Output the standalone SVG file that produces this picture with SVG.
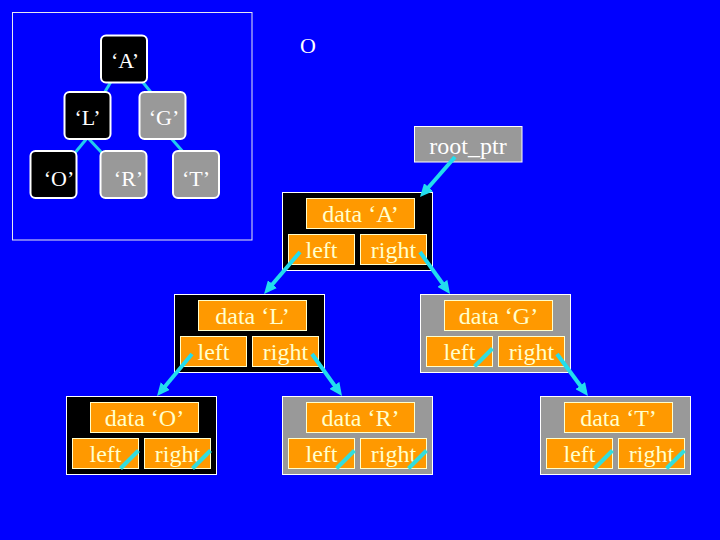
<svg xmlns="http://www.w3.org/2000/svg" width="720" height="540" viewBox="0 0 720 540">
  <style>
    text { font-family: "Liberation Serif", "Times New Roman", serif; text-anchor: middle; }
    .lbl { font-size: 22px; fill: #FFFFFF; }
    .ft { font-size: 24px; fill: #FFFFCC; }
    .rp { font-size: 24px; fill: #FFFFFF; }
    .ibox { stroke: #FFFFFF; stroke-width: 2; }
    .box { stroke: #FFFFFF; stroke-width: 1; }
    .blk { fill: #000000; }
    .gry { fill: #999999; }
    .fld { fill: #FF9900; stroke: #FFFFCC; stroke-width: 1; }
    .edge { stroke: #22DDEE; stroke-width: 4; fill: none; }
    .iedge { stroke: #22CCEE; stroke-width: 3; fill: none; }
    .null { stroke: #33DDDD; stroke-width: 4; }
  </style>
  <defs>
    <marker id="ah" markerUnits="userSpaceOnUse" markerWidth="14" markerHeight="12" refX="8" refY="6" orient="auto">
      <path d="M0,0 L13,6 L0,12 z" fill="#22DDEE"/>
    </marker>
  </defs>

  <rect x="0" y="0" width="720" height="540" fill="#0000FF"/>

  <!-- inset tree -->
  <rect x="12.5" y="12.5" width="239.5" height="227.5" fill="none" stroke="#E8E8F0" stroke-width="1"/>
  <g id="inset-edges">
    <line class="iedge" x1="112" y1="80" x2="103" y2="95"/>
    <line class="iedge" x1="141" y1="80" x2="151.5" y2="93"/>
    <line class="iedge" x1="88" y1="137" x2="74" y2="154"/>
    <line class="iedge" x1="87" y1="137" x2="103" y2="154"/>
    <line class="iedge" x1="170" y1="137" x2="184" y2="153"/>
  </g>
  <g id="inset-A"><rect class="ibox blk" x="101" y="35.5" width="46" height="47" rx="5"/><text class="lbl" x="125" y="68">‘A’</text></g>
  <g id="inset-L"><rect class="ibox blk" x="64.5" y="92" width="46" height="47" rx="5"/><text class="lbl" x="87.5" y="125">‘L’</text></g>
  <g id="inset-G"><rect class="ibox gry" x="139.5" y="92" width="46" height="47" rx="5"/><text class="lbl" x="164" y="125">‘G’</text></g>
  <g id="inset-O"><rect class="ibox blk" x="30.5" y="151" width="46" height="47" rx="5"/><text class="lbl" x="59" y="186">‘O’</text></g>
  <g id="inset-R"><rect class="ibox gry" x="100.5" y="151" width="46" height="47" rx="5"/><text class="lbl" x="128.5" y="186">‘R’</text></g>
  <g id="inset-T"><rect class="ibox gry" x="173" y="151" width="46" height="47" rx="5"/><text class="lbl" x="196" y="186">‘T’</text></g>

  <text class="lbl" x="308" y="53">O</text>

  <!-- root pointer -->
  <g id="root_ptr">
    <rect class="box gry" x="414.5" y="126.5" width="107.5" height="35.5"/>
    <text class="rp" x="468" y="154">root_ptr</text>
  </g>

  <!-- main nodes -->
  <g id="node-A" transform="translate(282.5,192.5)">
    <rect class="box blk" x="0" y="0" width="150" height="78"/>
    <rect class="fld" x="24" y="6" width="108" height="30"/>
    <rect class="fld" x="6" y="42" width="66" height="30"/>
    <rect class="fld" x="78" y="42" width="66" height="30"/>
    <text class="ft" x="78" y="29.5">data ‘A’</text>
    <text class="ft" x="39" y="65">left</text>
    <text class="ft" x="111" y="65">right</text>
  </g>
  <g id="node-L" transform="translate(174.5,294.5)">
    <rect class="box blk" x="0" y="0" width="150" height="78"/>
    <rect class="fld" x="24" y="6" width="108" height="30"/>
    <rect class="fld" x="6" y="42" width="66" height="30"/>
    <rect class="fld" x="78" y="42" width="66" height="30"/>
    <text class="ft" x="78" y="29.5">data ‘L’</text>
    <text class="ft" x="39" y="65">left</text>
    <text class="ft" x="111" y="65">right</text>
  </g>
  <g id="node-G" transform="translate(420.5,294.5)">
    <rect class="box gry" x="0" y="0" width="150" height="78"/>
    <rect class="fld" x="24" y="6" width="108" height="30"/>
    <rect class="fld" x="6" y="42" width="66" height="30"/>
    <rect class="fld" x="78" y="42" width="66" height="30"/>
    <text class="ft" x="78" y="29.5">data ‘G’</text>
    <text class="ft" x="39" y="65">left</text>
    <text class="ft" x="111" y="65">right</text>
    <line class="null" x1="72" y1="54" x2="54" y2="72"/>
  </g>
  <g id="node-O" transform="translate(66.5,396.5)">
    <rect class="box blk" x="0" y="0" width="150" height="78"/>
    <rect class="fld" x="24" y="6" width="108" height="30"/>
    <rect class="fld" x="6" y="42" width="66" height="30"/>
    <rect class="fld" x="78" y="42" width="66" height="30"/>
    <text class="ft" x="78" y="29.5">data ‘O’</text>
    <text class="ft" x="39" y="65">left</text>
    <text class="ft" x="111" y="65">right</text>
    <line class="null" x1="72" y1="54" x2="54" y2="72"/>
    <line class="null" x1="144" y1="54" x2="126" y2="72"/>
  </g>
  <g id="node-R" transform="translate(282.5,396.5)">
    <rect class="box gry" x="0" y="0" width="150" height="78"/>
    <rect class="fld" x="24" y="6" width="108" height="30"/>
    <rect class="fld" x="6" y="42" width="66" height="30"/>
    <rect class="fld" x="78" y="42" width="66" height="30"/>
    <text class="ft" x="78" y="29.5">data ‘R’</text>
    <text class="ft" x="39" y="65">left</text>
    <text class="ft" x="111" y="65">right</text>
    <line class="null" x1="72" y1="54" x2="54" y2="72"/>
    <line class="null" x1="144" y1="54" x2="126" y2="72"/>
  </g>
  <g id="node-T" transform="translate(540.5,396.5)">
    <rect class="box gry" x="0" y="0" width="150" height="78"/>
    <rect class="fld" x="24" y="6" width="108" height="30"/>
    <rect class="fld" x="6" y="42" width="66" height="30"/>
    <rect class="fld" x="78" y="42" width="66" height="30"/>
    <text class="ft" x="78" y="29.5">data ‘T’</text>
    <text class="ft" x="39" y="65">left</text>
    <text class="ft" x="111" y="65">right</text>
    <line class="null" x1="72" y1="54" x2="54" y2="72"/>
    <line class="null" x1="144" y1="54" x2="126" y2="72"/>
  </g>

  <!-- connectors -->
  <g id="connectors">
    <line class="edge" x1="455" y1="157" x2="423.3" y2="193.2" marker-end="url(#ah)"/>
    <line class="edge" x1="300" y1="252" x2="267.3" y2="290.2" marker-end="url(#ah)"/>
    <line class="edge" x1="420" y1="252" x2="447.1" y2="289.9" marker-end="url(#ah)"/>
    <line class="edge" x1="192" y1="354" x2="160.2" y2="392.2" marker-end="url(#ah)"/>
    <line class="edge" x1="312" y1="354" x2="339.1" y2="391.9" marker-end="url(#ah)"/>
    <line class="edge" x1="557" y1="354" x2="585" y2="392" marker-end="url(#ah)"/>
  </g>
</svg>
